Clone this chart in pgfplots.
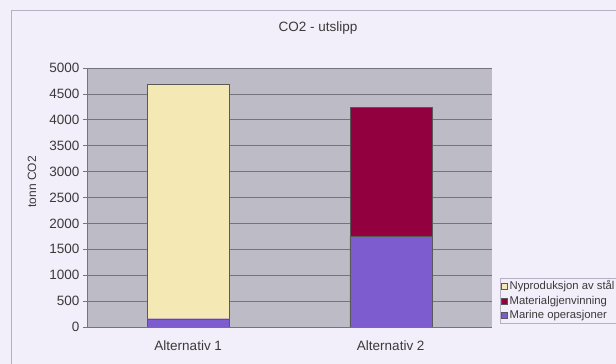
\documentclass[border=0pt]{standalone}
\usepackage{fontspec}
\setmainfont{Liberation Sans}
\usepackage{pgfplots}
\pgfplotsset{compat=1.18}
\definecolor{chartbg}{HTML}{F3EFFA}
\definecolor{framecol}{HTML}{B5B1C4}
\definecolor{plotbg}{HTML}{BDBBC5}
\definecolor{gridcol}{HTML}{74747C}
\definecolor{steel}{HTML}{F4E9B4}
\definecolor{recyc}{HTML}{93003F}
\definecolor{marine}{HTML}{7C5CCE}
\definecolor{txt}{HTML}{3A3A3A}
\begin{document}
\begin{tikzpicture}[x=1pt,y=1pt]
\useasboundingbox (0,0) rectangle (616,364);
\fill[chartbg] (0,0) rectangle (616,364);
\draw[framecol, line width=1pt] (11,-5) -- (11,353) -- (625,353);
\node[font=\fontsize{13.5}{15}\selectfont, text=txt] at (318,336) {CO2 - utslipp};
\begin{axis}[
  at={(87pt,37pt)}, anchor=south west,
  scale only axis, width=405pt, height=259pt,
  ybar stacked, bar width=82pt,
  xmin=-0.5, xmax=1.5, ymin=0, ymax=5000,
  axis background/.style={fill=plotbg},
  axis lines*=left, axis line style={-, draw=gridcol, line width=0.8pt},
  ymajorgrids, grid style={gridcol, line width=0.8pt},
  ytick={0,500,...,5000},
  /pgf/number format/assume math mode=true,
  /pgf/number format/set thousands separator={},
  tick align=outside, major tick length=4pt,
  tick style={draw=gridcol, line width=0.8pt},
  ticklabel style={font=\fontsize{13.5}{15}\selectfont, text=txt},
  xtick={0,1}, xticklabels={Alternativ 1, Alternativ 2},
  major x tick style={draw=none},
  extra x ticks={-0.5,0.5,1.5}, extra x tick labels={},
  extra x tick style={grid=none},
  xticklabel style={yshift=-6pt},
  ylabel={tonn CO2},
  ylabel style={at={(axis description cs:-0.136,0.56)}, anchor=center,
    font=\fontsize{12}{14}\selectfont, text=txt},
  reverse legend,
  legend style={at={(1,0)}, anchor=south west, xshift=8pt, yshift=4pt,
    fill=chartbg, draw=framecol, font=\fontsize{11.3}{12}\selectfont,
    text=txt, cells={anchor=west}, inner sep=1pt, row sep=0.5pt},
  legend image code/.code={\draw[#1] (0pt,-3pt) rectangle (6pt,3pt);},
]
\addplot[fill=marine, draw=black!65] coordinates {(0,160) (1,1750)};
\addplot[fill=recyc, draw=black!65] coordinates {(0,0) (1,2500)};
\addplot[fill=steel, draw=black!65] coordinates {(0,4520) (1,0)};
\legend{Marine operasjoner, Materialgjenvinning, Nyproduksjon av stål}
\end{axis}
\end{tikzpicture}
\end{document}
